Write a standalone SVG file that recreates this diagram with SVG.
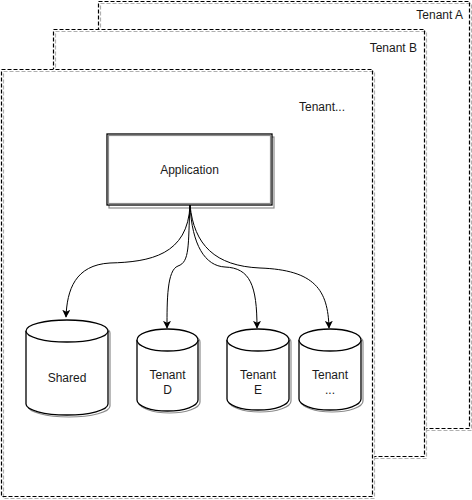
<svg xmlns="http://www.w3.org/2000/svg" width="472" height="500" viewBox="0 0 472 500">
  <defs>
    <style>
      .frame-fill { fill: #ffffff; stroke: none; }
      .frame { fill: none; stroke: #000000; stroke-width: 1.2; stroke-dasharray: 4 2; }
      .frame-ghost { fill: none; stroke: #b0b0b0; stroke-width: 1.2; stroke-dasharray: 4 2; }
      .shape { fill: #ffffff; stroke: #000000; stroke-width: 1.3; }
      .ghost { fill: none; stroke: #8c8c8c; stroke-width: 1.2; }
      .edge { fill: none; stroke: #000000; stroke-width: 1; marker-end: url(#arrow); }
      .label { font-family: "Liberation Sans", Arial, Helvetica, sans-serif; font-size: 12px; fill: #1a1a1a; }
      .mid { text-anchor: middle; }
      .end { text-anchor: end; }
    </style>
    <marker id="arrow" viewBox="0 0 10 10" refX="9" refY="5" markerWidth="8" markerHeight="8" markerUnits="userSpaceOnUse" orient="auto">
      <path d="M0,0 L10,5 L0,10 L2.5,5 Z" fill="#000000"/>
    </marker>
  </defs>

  <!-- stacked tenant frames, back to front -->
  <g id="tenant-a">
    <rect class="frame-fill" x="98" y="1" width="373" height="429"/>
    <rect class="frame-ghost" x="100.5" y="3.5" width="371" height="427"/>
    <rect class="frame" x="98.5" y="1.5" width="371" height="427"/>
    <text class="label end" x="463" y="19">Tenant A</text>
  </g>
  <g id="tenant-b">
    <rect class="frame-fill" x="53" y="29" width="373" height="429"/>
    <rect class="frame-ghost" x="55.5" y="31.5" width="371" height="427"/>
    <rect class="frame" x="53.5" y="29.5" width="371" height="427"/>
    <text class="label end" x="417" y="52">Tenant B</text>
  </g>
  <g id="tenant-current">
    <rect class="frame-fill" x="1" y="69" width="373" height="429"/>
    <rect class="frame-ghost" x="3.5" y="71.5" width="371" height="427"/>
    <rect class="frame" x="1.5" y="69.5" width="371" height="427"/>
    <text class="label end" x="345" y="111">Tenant...</text>
  </g>

  <!-- application box -->
  <g id="application">
    <rect class="ghost" x="109" y="137" width="165" height="71"/>
    <rect class="shape" x="107" y="134" width="165" height="71"/>
    <rect class="ghost" x="108.5" y="135.5" width="162" height="68" stroke-width="0.6"/>
    <text class="label mid" x="189.5" y="174">Application</text>
  </g>

  <!-- fan-out connectors -->
  <g id="connectors">
    <path class="edge" d="M190,205 C188,255 150,262 110,263 C75,265 67,290 66,317"/>
    <path class="edge" d="M190,205 C188,245 190,262 178,266 C167,270 167,300 167,328"/>
    <path class="edge" d="M190,205 C192,245 205,266 225,267 C250,268 257,285 257,328"/>
    <path class="edge" d="M190,205 C194,245 215,266 260,268 C315,270 328,290 329,328"/>
  </g>

  <!-- data stores -->
  <g id="db-shared">
    <path class="ghost" d="M28,333 A41,11 0 0 1 110,333 L110,406 A41,11 0 0 1 28,406 Z"/>
    <path class="shape" d="M26,331 A41,11 0 0 1 108,331 L108,404 A41,11 0 0 1 26,404 Z"/>
    <path class="shape" fill="none" d="M26,331 A41,11 0 0 0 108,331"/>
    <text class="label mid" x="67" y="382">Shared</text>
  </g>
  <g id="db-tenant-d">
    <path class="ghost" d="M139,342 A30.5,11 0 0 1 200,342 L200,402 A30.5,11 0 0 1 139,402 Z"/>
    <path class="shape" d="M137,340 A30.5,11 0 0 1 198,340 L198,400 A30.5,11 0 0 1 137,400 Z"/>
    <path class="shape" fill="none" d="M137,340 A30.5,11 0 0 0 198,340"/>
    <text class="label mid" x="167.5" y="379">Tenant</text>
    <text class="label mid" x="167.5" y="394">D</text>
  </g>
  <g id="db-tenant-e">
    <path class="ghost" d="M229,342 A31,11 0 0 1 291,342 L291,401 A31,11 0 0 1 229,401 Z"/>
    <path class="shape" d="M227,340 A31,11 0 0 1 289,340 L289,399 A31,11 0 0 1 227,399 Z"/>
    <path class="shape" fill="none" d="M227,340 A31,11 0 0 0 289,340"/>
    <text class="label mid" x="258" y="379">Tenant</text>
    <text class="label mid" x="258" y="394">E</text>
  </g>
  <g id="db-tenant-more">
    <path class="ghost" d="M301,342 A31,11 0 0 1 363,342 L363,401 A31,11 0 0 1 301,401 Z"/>
    <path class="shape" d="M299,340 A31,11 0 0 1 361,340 L361,399 A31,11 0 0 1 299,399 Z"/>
    <path class="shape" fill="none" d="M299,340 A31,11 0 0 0 361,340"/>
    <text class="label mid" x="330" y="379">Tenant</text>
    <text class="label mid" x="330" y="394" fill="#888888">...</text>
  </g>
</svg>
